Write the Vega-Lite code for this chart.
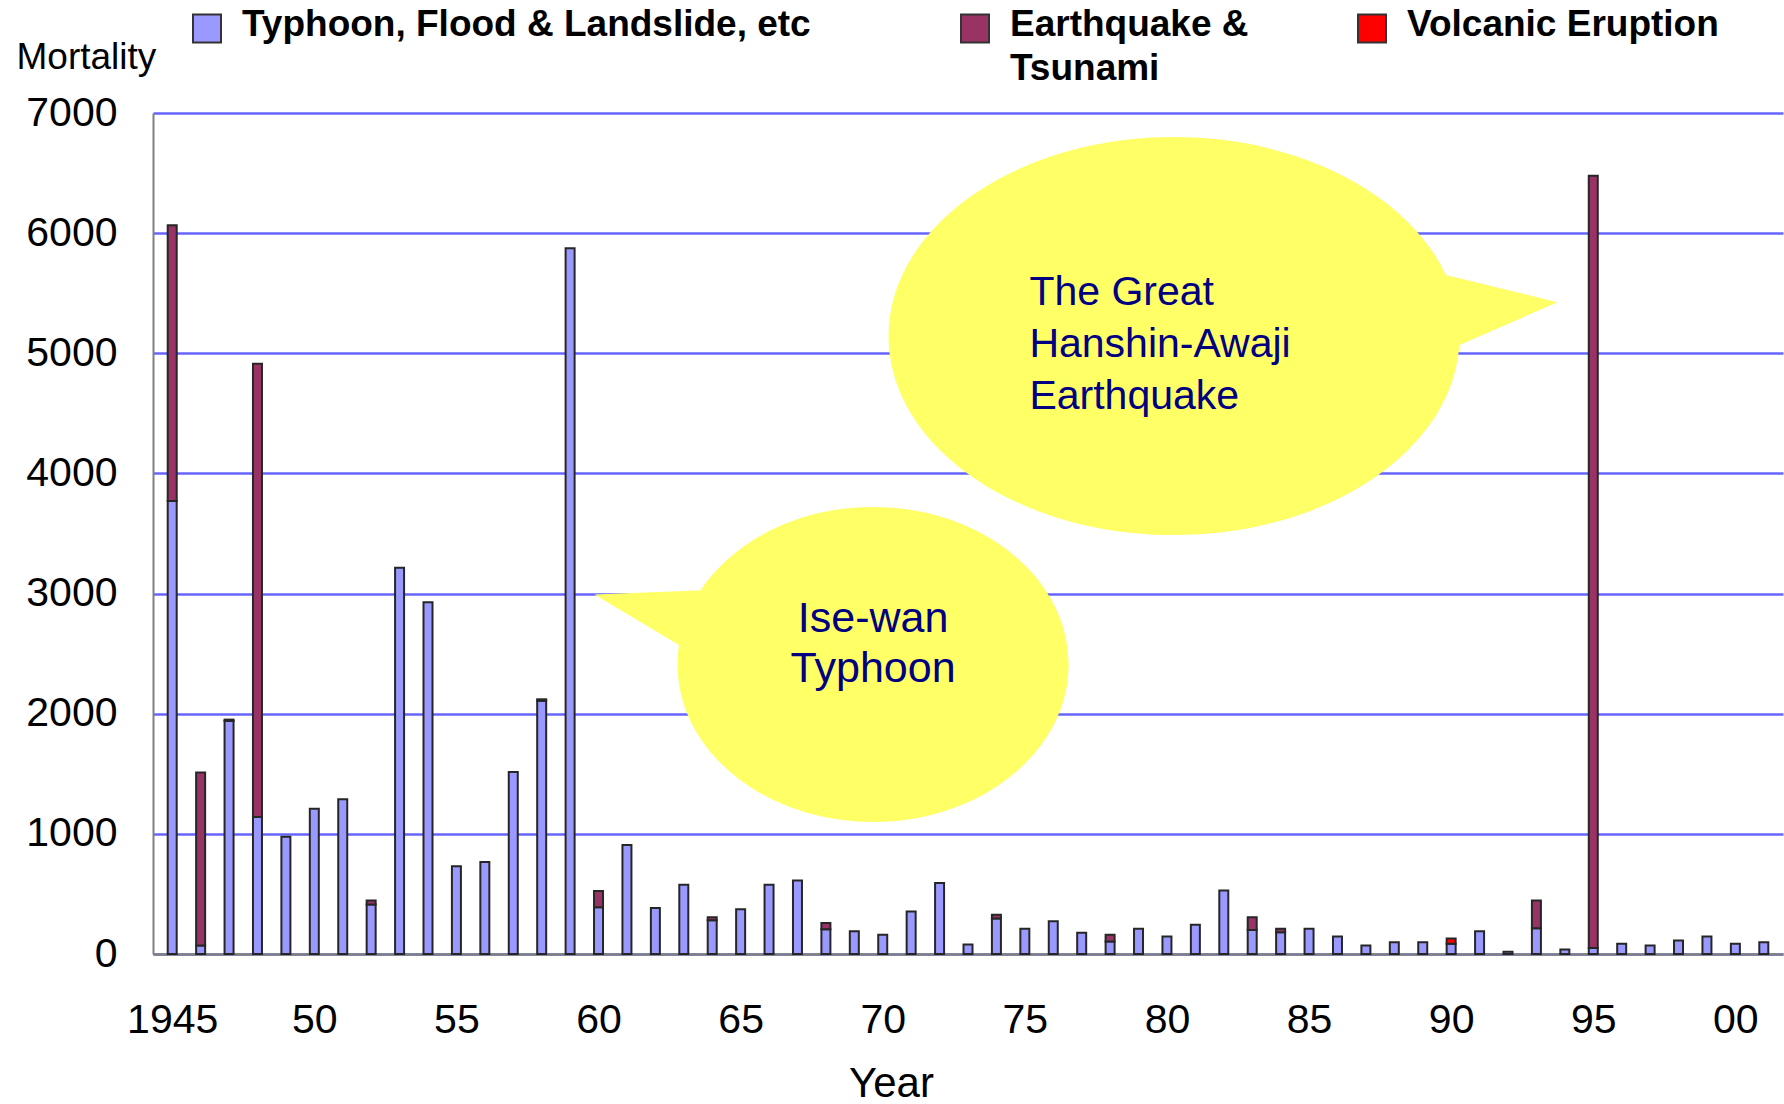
{
  "$schema": "https://vega.github.io/schema/vega-lite/v6.json",
  "width": 1630,
  "height": 841,
  "autosize": {"type": "none"},
  "padding": {"left": 153, "top": 113, "right": 1, "bottom": 150},
  "background": "#ffffff",
  "config": {
    "view": {"stroke": null},
    "font": "Liberation Sans"
  },
  "layer": [
    {
      "data": {
        "values": [
          {"year": 1945, "c": 1, "deaths": 3770}, {"year": 1945, "c": 2, "deaths": 2295},
          {"year": 1946, "c": 1, "deaths": 70}, {"year": 1946, "c": 2, "deaths": 1440},
          {"year": 1947, "c": 1, "deaths": 1940}, {"year": 1947, "c": 3, "deaths": 11},
          {"year": 1948, "c": 1, "deaths": 1140}, {"year": 1948, "c": 2, "deaths": 3772},
          {"year": 1949, "c": 1, "deaths": 975},
          {"year": 1950, "c": 1, "deaths": 1208},
          {"year": 1951, "c": 1, "deaths": 1288},
          {"year": 1952, "c": 1, "deaths": 412}, {"year": 1952, "c": 2, "deaths": 33},
          {"year": 1953, "c": 1, "deaths": 3215},
          {"year": 1954, "c": 1, "deaths": 2928},
          {"year": 1955, "c": 1, "deaths": 730},
          {"year": 1956, "c": 1, "deaths": 765},
          {"year": 1957, "c": 1, "deaths": 1515},
          {"year": 1958, "c": 1, "deaths": 2108}, {"year": 1958, "c": 3, "deaths": 12},
          {"year": 1959, "c": 1, "deaths": 5875},
          {"year": 1960, "c": 1, "deaths": 390}, {"year": 1960, "c": 2, "deaths": 135},
          {"year": 1961, "c": 1, "deaths": 908},
          {"year": 1962, "c": 1, "deaths": 383},
          {"year": 1963, "c": 1, "deaths": 576},
          {"year": 1964, "c": 1, "deaths": 280}, {"year": 1964, "c": 2, "deaths": 26},
          {"year": 1965, "c": 1, "deaths": 372},
          {"year": 1966, "c": 1, "deaths": 576},
          {"year": 1967, "c": 1, "deaths": 611},
          {"year": 1968, "c": 1, "deaths": 205}, {"year": 1968, "c": 2, "deaths": 54},
          {"year": 1969, "c": 1, "deaths": 190},
          {"year": 1970, "c": 1, "deaths": 160},
          {"year": 1971, "c": 1, "deaths": 354},
          {"year": 1972, "c": 1, "deaths": 592},
          {"year": 1973, "c": 1, "deaths": 79},
          {"year": 1974, "c": 1, "deaths": 296}, {"year": 1974, "c": 2, "deaths": 30},
          {"year": 1975, "c": 1, "deaths": 210},
          {"year": 1976, "c": 1, "deaths": 273},
          {"year": 1977, "c": 1, "deaths": 176},
          {"year": 1978, "c": 1, "deaths": 105}, {"year": 1978, "c": 2, "deaths": 55},
          {"year": 1979, "c": 1, "deaths": 210},
          {"year": 1980, "c": 1, "deaths": 146},
          {"year": 1981, "c": 1, "deaths": 243},
          {"year": 1982, "c": 1, "deaths": 528},
          {"year": 1983, "c": 1, "deaths": 200}, {"year": 1983, "c": 2, "deaths": 106},
          {"year": 1984, "c": 1, "deaths": 180}, {"year": 1984, "c": 2, "deaths": 30},
          {"year": 1985, "c": 1, "deaths": 210},
          {"year": 1986, "c": 1, "deaths": 146},
          {"year": 1987, "c": 1, "deaths": 71},
          {"year": 1988, "c": 1, "deaths": 98},
          {"year": 1989, "c": 1, "deaths": 98},
          {"year": 1990, "c": 1, "deaths": 85}, {"year": 1990, "c": 3, "deaths": 45},
          {"year": 1991, "c": 1, "deaths": 190},
          {"year": 1992, "c": 1, "deaths": 19},
          {"year": 1993, "c": 1, "deaths": 215}, {"year": 1993, "c": 2, "deaths": 230},
          {"year": 1994, "c": 1, "deaths": 37},
          {"year": 1995, "c": 1, "deaths": 50}, {"year": 1995, "c": 2, "deaths": 6428},
          {"year": 1996, "c": 1, "deaths": 85},
          {"year": 1997, "c": 1, "deaths": 71},
          {"year": 1998, "c": 1, "deaths": 112},
          {"year": 1999, "c": 1, "deaths": 146},
          {"year": 2000, "c": 1, "deaths": 85},
          {"year": 2001, "c": 1, "deaths": 98}
        ]
      },
      "mark": {"type": "bar", "size": 9, "stroke": "#262626", "strokeWidth": 2},
      "encoding": {
        "x": {
          "field": "year", "type": "quantitative",
          "scale": {"domain": [1944.5, 2001.5], "nice": false, "zero": false},
          "axis": {
            "values": [1945, 1950, 1955, 1960, 1965, 1970, 1975, 1980, 1985, 1990, 1995, 2000],
            "labelExpr": "datum.value == 1945 ? '1945' : substring(toString(datum.value), 2)",
            "grid": false, "ticks": false,
            "domainColor": "#808080", "domainWidth": 2.5,
            "labelFontSize": 41, "labelColor": "#000000", "labelPadding": 46,
            "labelFlush": false, "labelOverlap": false,
            "title": "Year", "titleFontSize": 42, "titleFontWeight": "normal", "titleColor": "#000000",
            "titleX": 738, "titleY": 142, "titleBaseline": "alphabetic", "titleAlign": "center"
          }
        },
        "y": {
          "field": "deaths", "type": "quantitative", "stack": "zero",
          "scale": {"domain": [0, 7000], "nice": false},
          "axis": {
            "values": [0, 1000, 2000, 3000, 4000, 5000, 6000, 7000],
            "format": "d",
            "grid": true, "gridColor": "#6666FF", "gridWidth": 2.5,
            "ticks": false,
            "domainColor": "#808080", "domainWidth": 2,
            "labelFontSize": 41, "labelColor": "#000000", "labelPadding": 36,
            "title": "Mortality", "titleFontSize": 37, "titleFontWeight": "normal", "titleColor": "#000000",
            "titleAngle": 0, "titleAlign": "left", "titleBaseline": "alphabetic",
            "titleX": -137, "titleY": -45
          }
        },
        "color": {
          "field": "c", "type": "nominal",
          "scale": {"domain": [1, 2, 3], "range": ["#9999FF", "#993366", "#FF0000"]},
          "legend": {
            "orient": "none", "legendX": 35.5, "legendY": -103,
            "direction": "horizontal", "title": null, "padding": 0,
            "symbolType": "square", "symbolSize": 784,
            "symbolStrokeColor": "#333333", "symbolStrokeWidth": 2, "symbolOpacity": 1,
            "labelFontSize": 37, "labelFontWeight": "bold", "labelFont": "Liberation Sans",
            "labelColor": "#000000", "labelOffset": 16.5, "columnPadding": 104, "labelLimit": 1000,
            "labelExpr": "datum.value == 1 ? ['Typhoon, Flood & Landslide, etc    \u200b', ''] : datum.value == 2 ? ['Earthquake &', 'Tsunami'] : ['Volcanic Eruption', '']",
            "encode": {
              "labels": {
                "update": {
                  "dy": {"value": -3.5},
                  "lineHeight": {"value": 44}
                }
              }
            }
          }
        },
        "order": {"field": "c", "type": "quantitative"}
      }
    },
    {
      "data": {"values": [{"event": "Ise-wan Typhoon", "year": 1969.66, "deaths": 2410}]},
      "mark": {
        "type": "point", "filled": true, "fill": "#FFFF66", "opacity": 1, "strokeWidth": 0,
        "size": 152881, "clip": false,
        "shape": "M1,0C1,0.445 0.552,0.806 0,0.806C-0.552,0.806 -1,0.445 -1,0C-1,-0.445 -0.552,-0.806 0,-0.806C0.552,-0.806 1,-0.445 1,0Z M-0.87,-0.379L-0.98,-0.092L-1.425,-0.358Z"
      },
      "encoding": {
        "x": {"field": "year", "type": "quantitative"},
        "y": {"field": "deaths", "type": "quantitative"}
      }
    },
    {
      "data": {"values": [{"event": "The Great Hanshin-Awaji Earthquake", "year": 1980.25, "deaths": 5143}]},
      "mark": {
        "type": "point", "filled": true, "fill": "#FFFF66", "opacity": 1, "strokeWidth": 0,
        "size": 326041, "clip": false,
        "shape": "M1,0C1,0.385 0.552,0.697 0,0.697C-0.552,0.697 -1,0.385 -1,0C-1,-0.385 -0.552,-0.697 0,-0.697C0.552,-0.697 1,-0.385 1,0Z M0.93,-0.219L1.343,-0.119L0.98,0.04Z"
      },
      "encoding": {
        "x": {"field": "year", "type": "quantitative"},
        "y": {"field": "deaths", "type": "quantitative"}
      }
    },
    {
      "data": {"values": [{"label": "Ise-wan\nTyphoon", "year": 1969.66, "deaths": 2679}]},
      "mark": {
        "type": "text", "align": "center", "baseline": "alphabetic", "lineBreak": "\n",
        "lineHeight": 50, "fontSize": 43, "font": "Liberation Sans", "color": "#000080"
      },
      "encoding": {
        "x": {"field": "year", "type": "quantitative"},
        "y": {"field": "deaths", "type": "quantitative"},
        "text": {"field": "label"}
      }
    },
    {
      "data": {"values": [{"label": "The Great\nHanshin-Awaji\nEarthquake", "year": 1975.16, "deaths": 5398}]},
      "mark": {
        "type": "text", "align": "left", "baseline": "alphabetic", "lineBreak": "\n",
        "lineHeight": 52, "fontSize": 41, "font": "Liberation Sans", "color": "#000080"
      },
      "encoding": {
        "x": {"field": "year", "type": "quantitative"},
        "y": {"field": "deaths", "type": "quantitative"},
        "text": {"field": "label"}
      }
    }
  ]
}
